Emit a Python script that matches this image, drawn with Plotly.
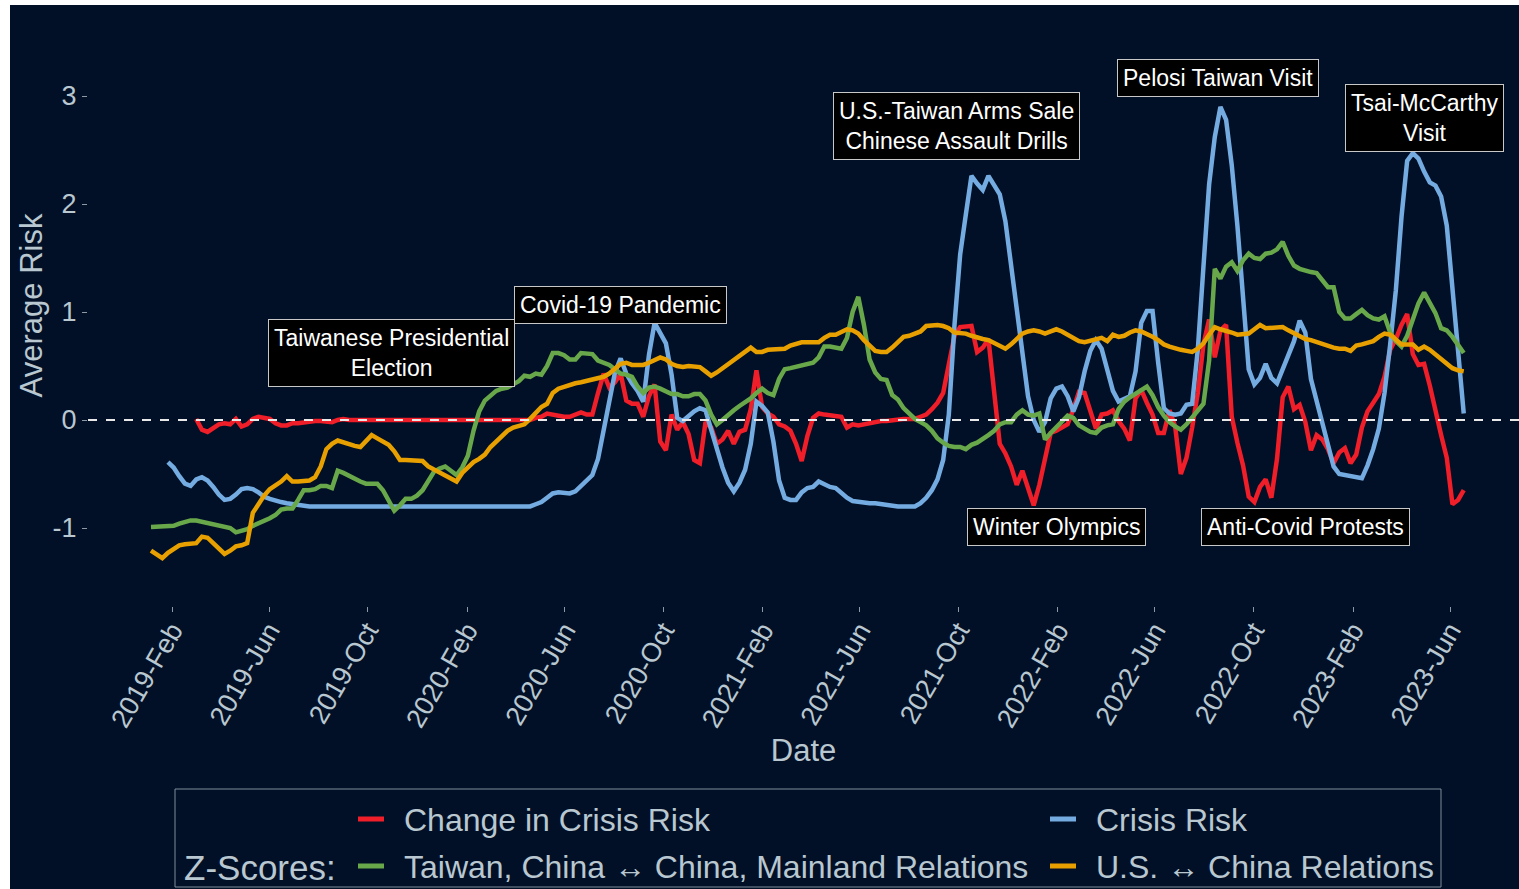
import pandas as pd
import plotly.graph_objects as go

# weekly series, first week 2019-01-06
weeks = pd.date_range("2019-01-06", periods=233, freq="7D")

change_risk = [
    None, None, None, None, None, None, None, None, 0.01, -0.09,
    -0.11, -0.08, -0.04, -0.03, -0.04, 0.01, -0.06, -0.04, 0.01, 0.03,
    0.02, 0.01, -0.03, -0.05, -0.05, -0.03, -0.03, -0.02, -0.02, -0.01,
    -0.01, -0.02, -0.02, 0.00, 0.01, 0.00, 0.00, 0.00, 0.00, 0.00,
    0.00, 0.00, 0.00, 0.00, 0.00, 0.00, 0.00, 0.00, 0.00, 0.00,
    0.00, 0.00, 0.00, 0.00, 0.00, 0.00, 0.00, 0.00, 0.00, 0.00,
    0.00, 0.00, 0.00, 0.00, 0.00, 0.00, 0.00, 0.00, 0.02, 0.03,
    0.06, 0.05, 0.03, 0.03, 0.03, 0.05, 0.07, 0.05, 0.05, 0.25,
    0.43, 0.30, 0.35, 0.43, 0.18, 0.15, 0.15, 0.03, 0.22, 0.33,
    -0.20, -0.28, 0.05, -0.09, -0.02, -0.13, -0.37, -0.40, -0.02, -0.07,
    -0.22, -0.18, -0.10, -0.22, -0.11, -0.09, 0.10, 0.46, 0.12, 0.06,
    0.03, -0.04, -0.06, -0.10, -0.22, -0.38, -0.15, 0.02, 0.06, 0.05,
    0.04, 0.04, 0.03, -0.07, -0.04, -0.05, -0.04, -0.02, -0.02, -0.01,
    -0.01, 0.00, 0.01, 0.01, 0.01, 0.01, 0.03, 0.05, 0.10, 0.16,
    0.25, 0.50, 0.78, 0.86, 0.86, 0.87, 0.63, 0.67, 0.75, 0.30,
    -0.22, -0.31, -0.43, -0.60, -0.47, -0.63, -0.79, -0.60, -0.34, -0.12,
    -0.10, -0.07, -0.04, 0.10, 0.26, 0.25, 0.09, -0.08, 0.05, 0.06,
    0.09, -0.01, -0.08, -0.19, 0.20, 0.28, 0.16, 0.05, -0.12, -0.12,
    0.09, -0.06, -0.50, -0.35, -0.07, 0.25, 0.70, 0.93, 0.58, 0.83,
    0.88, 0.03, -0.21, -0.42, -0.71, -0.76, -0.62, -0.55, -0.72, -0.36,
    0.21, 0.31, 0.10, 0.14, -0.02, -0.28, -0.14, -0.18, -0.27, -0.40,
    -0.30, -0.26, -0.40, -0.32, -0.07, 0.08, 0.16, 0.24, 0.40, 0.65,
    0.75, 0.88, 0.98, 0.61, 0.51, 0.52, 0.32, 0.07, -0.14, -0.35,
    -0.78, -0.74, -0.65,
]

crisis_risk = [
    None, None, None, -0.39, -0.44, -0.52, -0.59, -0.61, -0.55, -0.53,
    -0.56, -0.62, -0.69, -0.74, -0.73, -0.69, -0.64, -0.63, -0.64, -0.67,
    -0.71, -0.73, -0.75, -0.76, -0.77, -0.78, -0.79, -0.79, -0.80, -0.80,
    -0.80, -0.80, -0.80, -0.80, -0.80, -0.80, -0.80, -0.80, -0.80, -0.80,
    -0.80, -0.80, -0.80, -0.80, -0.80, -0.80, -0.80, -0.80, -0.80, -0.80,
    -0.80, -0.80, -0.80, -0.80, -0.80, -0.80, -0.80, -0.80, -0.80, -0.80,
    -0.80, -0.80, -0.80, -0.80, -0.80, -0.80, -0.80, -0.80, -0.78, -0.76,
    -0.72, -0.68, -0.67, -0.67, -0.68, -0.66, -0.61, -0.57, -0.51, -0.36,
    -0.10, 0.19, 0.44, 0.57, 0.43, 0.34, 0.27, 0.17, 0.60, 0.90,
    0.80, 0.71, 0.42, 0.02, -0.01, 0.04, 0.08, 0.11, 0.09, -0.09,
    -0.27, -0.44, -0.58, -0.66, -0.58, -0.46, -0.22, 0.17, 0.13, 0.07,
    -0.20, -0.56, -0.72, -0.74, -0.74, -0.67, -0.63, -0.62, -0.57, -0.60,
    -0.62, -0.63, -0.68, -0.72, -0.75, -0.76, -0.77, -0.77, -0.77, -0.78,
    -0.79, -0.79, -0.80, -0.80, -0.80, -0.80, -0.77, -0.72, -0.65, -0.55,
    -0.37, 0.05, 0.88, 1.53, 1.90, 2.26, 2.19, 2.13, 2.26, 2.18,
    2.09, 1.84, 1.43, 0.97, 0.55, 0.22, 0.00, -0.11, -0.02, 0.20,
    0.29, 0.31, 0.22, 0.08, 0.21, 0.45, 0.64, 0.74, 0.66, 0.45,
    0.27, 0.17, 0.19, 0.22, 0.45, 0.90, 1.01, 1.01, 0.53, 0.11,
    0.06, 0.05, 0.06, 0.14, 0.15, 0.65, 1.42, 2.18, 2.62, 2.90,
    2.78, 2.36, 1.80, 1.07, 0.47, 0.33, 0.39, 0.52, 0.39, 0.34,
    0.47, 0.60, 0.73, 0.92, 0.81, 0.38, 0.18, -0.02, -0.21, -0.43,
    -0.50, -0.51, -0.51, -0.52, -0.54, -0.42, -0.27, -0.08, 0.25, 0.70,
    1.20, 1.88, 2.40, 2.47, 2.42, 2.30, 2.20, 2.17, 2.07, 1.80,
    1.25, 0.65, 0.06,
]

taiwan_china = [
    -0.99, -0.99, -0.99, -0.99, -0.98, -0.96, -0.94, -0.93, -0.93, -0.94,
    -0.96, -0.96, -0.97, -0.98, -1.00, -1.04, -1.03, -1.01, -0.98, -0.96,
    -0.94, -0.91, -0.88, -0.83, -0.82, -0.82, -0.74, -0.65, -0.65, -0.64,
    -0.61, -0.61, -0.63, -0.47, -0.49, -0.52, -0.55, -0.57, -0.59, -0.59,
    -0.59, -0.65, -0.75, -0.84, -0.79, -0.73, -0.73, -0.70, -0.65, -0.56,
    -0.48, -0.45, -0.43, -0.47, -0.51, -0.44, -0.33, -0.10, 0.08, 0.18,
    0.23, 0.27, 0.29, 0.30, 0.33, 0.36, 0.41, 0.40, 0.43, 0.42,
    0.50, 0.62, 0.62, 0.60, 0.56, 0.56, 0.62, 0.62, 0.61, 0.55,
    0.53, 0.51, 0.47, 0.43, 0.42, 0.40, 0.31, 0.25, 0.30, 0.31,
    0.29, 0.27, 0.24, 0.24, 0.22, 0.22, 0.24, 0.24, 0.18, 0.05,
    -0.04, 0.00, 0.05, 0.09, 0.13, 0.16, 0.20, 0.25, 0.29, 0.25,
    0.23, 0.38, 0.47, 0.48, 0.49, 0.50, 0.52, 0.53, 0.58, 0.68,
    0.68, 0.67, 0.66, 0.76, 1.00, 1.14, 0.88, 0.56, 0.44, 0.38,
    0.37, 0.23, 0.19, 0.11, 0.06, 0.01, -0.02, -0.05, -0.10, -0.17,
    -0.21, -0.24, -0.25, -0.25, -0.27, -0.23, -0.21, -0.18, -0.14, -0.10,
    -0.04, -0.02, -0.02, 0.05, 0.09, 0.05, 0.04, 0.06, -0.18, -0.12,
    -0.07, -0.02, 0.04, 0.02, -0.05, -0.08, -0.11, -0.12, -0.07, -0.05,
    -0.04, 0.10, 0.17, 0.21, 0.24, 0.28, 0.31, 0.23, 0.12, 0.04,
    -0.02, -0.06, -0.09, -0.04, 0.02, 0.09, 0.15, 0.55, 1.40, 1.31,
    1.42, 1.46, 1.38, 1.48, 1.54, 1.50, 1.49, 1.54, 1.55, 1.58,
    1.65, 1.52, 1.43, 1.40, 1.38, 1.37, 1.36, 1.30, 1.23, 1.23,
    1.00, 0.94, 0.94, 0.98, 1.02, 0.97, 0.94, 0.93, 0.96, 0.81,
    0.73, 0.68, 0.78, 0.93, 1.08, 1.18, 1.09, 0.99, 0.85, 0.83,
    0.77, 0.70, 0.62,
]

us_china = [
    -1.21, -1.24, -1.28, -1.23, -1.19, -1.16, -1.15, -1.15, -1.14, -1.08,
    -1.09, -1.14, -1.19, -1.24, -1.21, -1.17, -1.16, -1.14, -0.86, -0.77,
    -0.70, -0.64, -0.61, -0.57, -0.52, -0.57, -0.57, -0.57, -0.56, -0.53,
    -0.43, -0.27, -0.22, -0.19, -0.21, -0.23, -0.24, -0.25, -0.20, -0.14,
    -0.17, -0.20, -0.23, -0.29, -0.37, -0.37, -0.37, -0.37, -0.38, -0.43,
    -0.46, -0.49, -0.52, -0.55, -0.57, -0.49, -0.44, -0.39, -0.36, -0.32,
    -0.25, -0.20, -0.15, -0.10, -0.07, -0.05, -0.04, 0.01, 0.06, 0.12,
    0.15, 0.25, 0.29, 0.31, 0.33, 0.34, 0.35, 0.36, 0.38, 0.39,
    0.40, 0.43, 0.47, 0.52, 0.53, 0.51, 0.51, 0.51, 0.53, 0.55,
    0.58, 0.56, 0.52, 0.50, 0.49, 0.50, 0.50, 0.49, 0.45, 0.41,
    0.44, 0.48, 0.52, 0.56, 0.59, 0.63, 0.67, 0.63, 0.63, 0.65,
    0.65, 0.65, 0.66, 0.69, 0.71, 0.72, 0.72, 0.72, 0.72, 0.76,
    0.79, 0.79, 0.81, 0.84, 0.83, 0.80, 0.74, 0.69, 0.64, 0.63,
    0.63, 0.67, 0.72, 0.77, 0.78, 0.80, 0.82, 0.87, 0.88, 0.88,
    0.87, 0.85, 0.81, 0.81, 0.80, 0.78, 0.76, 0.75, 0.74, 0.71,
    0.68, 0.66, 0.70, 0.75, 0.80, 0.82, 0.83, 0.82, 0.80, 0.82,
    0.84, 0.82, 0.79, 0.76, 0.73, 0.72, 0.73, 0.74, 0.76, 0.73,
    0.79, 0.77, 0.78, 0.81, 0.83, 0.82, 0.80, 0.77, 0.74, 0.70,
    0.68, 0.66, 0.65, 0.64, 0.63, 0.66, 0.71, 0.79, 0.86, 0.84,
    0.83, 0.81, 0.79, 0.80, 0.80, 0.84, 0.88, 0.85, 0.85, 0.86,
    0.86, 0.83, 0.80, 0.77, 0.75, 0.74, 0.72, 0.70, 0.68, 0.67,
    0.66, 0.66, 0.64, 0.69, 0.70, 0.71, 0.73, 0.77, 0.80, 0.79,
    0.75, 0.70, 0.70, 0.70, 0.65, 0.68, 0.65, 0.61, 0.57, 0.53,
    0.48, 0.46, 0.45,
]

series_names = ["Change in Crisis Risk", "Crisis Risk",
                "Taiwan, China \u2194 China, Mainland Relations",
                "U.S. \u2194 China Relations"]
series_values = [change_risk, crisis_risk, taiwan_china, us_china]
series_colors = ["#f01e28", "#74ace2", "#68a84a", "#e8a000"]

y_ticks = [-1, 0, 1, 2, 3]
y_tick_text = ["-1", "0", "1", "2", "3"]

event_labels = ["Taiwanese Presidential<br>Election", "Covid-19 Pandemic",
                "U.S.-Taiwan Arms Sale<br>Chinese Assault Drills",
                "Pelosi Taiwan Visit", "Tsai-McCarthy<br>Visit",
                "Winter Olympics", "Anti-Covid Protests"]
event_dates = ["2019-10-31", "2020-08-09", "2021-09-29", "2022-08-18",
               "2023-04-30", "2022-01-30", "2022-12-04"]
event_y = [0.62, 1.065, 2.72, 3.17, 2.80, -0.99, -0.99]

# page geometry
W, H = 1519, 889
L, R, T, B = 88, 0, 5, 283
BG = "#011026"
TXT = "#b9c7d0"
FONT = "Liberation Sans, Arial, sans-serif"


def px_x(px):
    return (px - L) / (W - L - R)


def px_y(py):
    return (H - B - py) / (H - T - B)


# x range so that 2019-Feb sits at 172px and 2023-Jun at 1450px
ta, tb = pd.Timestamp("2019-02-01"), pd.Timestamp("2023-06-01")
ppd = (1450 - 172) / (tb - ta).days
x_lo = ta - pd.Timedelta(days=(172 - L) / ppd)
x_hi = ta + pd.Timedelta(days=(W - R - 172) / ppd)
y_lo = -(H - B - 420) / 108
y_hi = (420 - T) / 108

fig = go.Figure()
for name, vals, col in zip(series_names, series_values, series_colors):
    fig.add_trace(go.Scatter(x=weeks[:len(vals)], y=vals, mode="lines", name=name,
                             line=dict(color=col, width=4.5), showlegend=False))

# dashed zero line
fig.add_shape(type="line", xref="paper", x0=0, x1=1, yref="y", y0=0, y1=0,
              line=dict(color="#e8e8e8", width=2, dash="dash"), layer="above")

for lab, d, yv in zip(event_labels, event_dates, event_y):
    fig.add_annotation(x=d, y=yv, text=lab, showarrow=False,
                       font=dict(family=FONT, size=23, color="white"),
                       bgcolor="black", bordercolor="#c8c8c8", borderwidth=1,
                       borderpad=5, xanchor="center", yanchor="middle")

# white strips on left and top edge of the image
fig.add_shape(type="rect", xref="paper", yref="paper", x0=px_x(0), x1=px_x(10),
              y0=px_y(H), y1=px_y(0), fillcolor="white", line_width=0, layer="above")
fig.add_shape(type="rect", xref="paper", yref="paper", x0=px_x(0), x1=px_x(W),
              y0=px_y(5), y1=px_y(0), fillcolor="white", line_width=0, layer="above")

# legend box
fig.add_shape(type="rect", xref="paper", yref="paper", x0=px_x(175), x1=px_x(1441),
              y0=px_y(887), y1=px_y(789), line=dict(color="#7f8d9a", width=1))
fig.add_annotation(xref="paper", yref="paper", x=px_x(182), y=px_y(867),
                   text="Z-Scores:", showarrow=False, xanchor="left", yanchor="middle",
                   font=dict(family=FONT, size=35, color=TXT))
key_cols = [358, 1050, 358, 1050]
key_rows = [819, 819, 866, 866]
for name, col, kx, ky in zip(series_names, series_colors, key_cols, key_rows):
    fig.add_shape(type="line", xref="paper", yref="paper", x0=px_x(kx), x1=px_x(kx + 26),
                  y0=px_y(ky), y1=px_y(ky), line=dict(color=col, width=5))
    fig.add_annotation(xref="paper", yref="paper", x=px_x(kx + 44), y=px_y(ky + 1),
                       text=name, showarrow=False, xanchor="left", yanchor="middle",
                       font=dict(family=FONT, size=32, color=TXT))

fig.update_layout(
    width=W, height=H,
    margin=dict(l=L, r=R, t=T, b=B, pad=0),
    paper_bgcolor=BG, plot_bgcolor=BG,
    font=dict(family=FONT, color=TXT),
    xaxis=dict(range=[x_lo, x_hi], showgrid=False, zeroline=False, showline=False,
               tickformat="%Y-%b", dtick="M4", tick0="2019-02-01", tickangle=-60,
               ticks="outside", ticklen=5, tickcolor="#8d9aa5", tickwidth=1,
               ticklabelstandoff=-8,
               tickfont=dict(size=27, color=TXT), automargin=False,
               title=dict(text="Date", font=dict(size=31, color=TXT), standoff=5)),
    yaxis=dict(range=[y_lo, y_hi], showgrid=False, zeroline=False, showline=False,
               tickvals=y_ticks, ticktext=y_tick_text, ticks="outside", ticklen=5,
               tickcolor="#8d9aa5", tickwidth=1,
               tickfont=dict(size=27, color=TXT), automargin=False,
               title=dict(text="Average Risk", font=dict(size=31, color=TXT), standoff=0)),
)

fig.write_html("out.html", config={"displayModeBar": False},
               post_script="document.body.style.margin='0';")
